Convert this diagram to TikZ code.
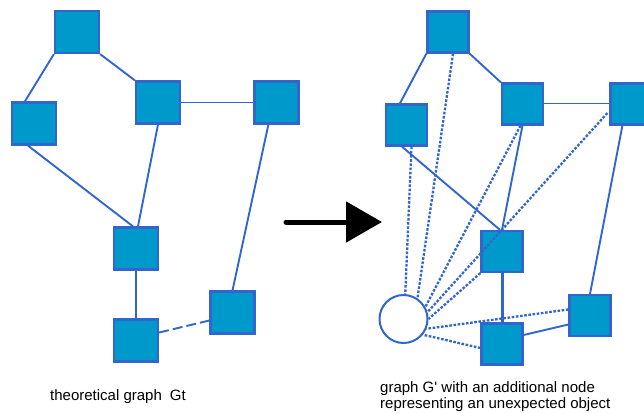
\documentclass[tikz,border=0pt]{standalone}
\usepackage{fontspec}
\setmainfont{Liberation Sans}
\usetikzlibrary{calc,arrows.meta}
\definecolor{boxfill}{RGB}{0,153,204}
\definecolor{edgeblue}{RGB}{51,102,204}
\begin{document}
\begin{tikzpicture}[x=1pt,y=-1pt,
  sqL/.style={draw=edgeblue,fill=boxfill,line width=2.2pt,minimum width=44pt,minimum height=42pt,inner sep=0pt},
  sqR/.style={draw=edgeblue,fill=boxfill,line width=2.2pt,minimum width=41pt,minimum height=41pt,inner sep=0pt},
  obj/.style={circle,draw=edgeblue,fill=white,line width=2pt,minimum size=48pt,inner sep=0pt},
  link/.style={draw=edgeblue,line width=1.9pt},
  thinlink/.style={draw=edgeblue,line width=1pt},
  dashlink/.style={draw=edgeblue,line width=1.9pt,dash pattern=on 10pt off 4pt},
  dotlink/.style={draw=edgeblue,line width=2.3pt,dash pattern=on 2.6pt off 1.6pt},
  caption/.style={font=\fontsize{15}{17}\selectfont,inner sep=0pt}]
\useasboundingbox (0,0) rectangle (644,414);
\clip (0,0) rectangle (644,414);

% ---------- theoretical graph ----------
\node[sqL] (A) at (77,32) {};
\node[sqL] (B) at (34,123.5) {};
\node[sqL] (C) at (158,102.5) {};
\node[sqL] (D) at (276.5,102.5) {};
\node[sqL] (E) at (136,248.5) {};
\node[sqL] (F) at (136,340.5) {};
\node[sqL] (G) at (232.5,312.5) {};

\draw[link] (A.south west) -- ($(B.north west)+(14,0)$);
\draw[link] (A.south east) -- (C.north west);
\draw[thinlink] (C.east) -- (D.west);
\draw[link] ($(B.south west)+(17,0)$) -- ($(E.north)+(-3,0)$);
\draw[link] (C.south) -- ($(E.north)+(2,0)$);
\draw[link] ($(D.south west)+(15,0)$) -- (G.north);
\draw[link] (E.south) -- (F.north);
\draw[dashlink] ($(F.east)+(0,-8)$) -- ($(G.west)+(0,8)$);

% ---------- transformation arrow ----------
\coordinate (t0) at (286,222);
\coordinate (t1) at (382,222);
\draw[line width=5pt,line cap=round,-{Triangle[length=36pt,width=40pt]}] (t0) -- (t1);

% ---------- graph with the extra object ----------
\node[sqR] (A2) at (448,32) {};
\node[sqR] (B2) at (406.5,125) {};
\node[sqR] (C2) at (522.5,104) {};
\node[sqR] (D2) at (631,104) {};
\node[sqR] (E2) at (502,251.5) {};
\node[sqR] (F2) at (502,344) {};
\node[sqR] (G2) at (590,315.5) {};
\node[obj] (O) at (403.5,319) {};

\draw[link] (A2.south west) -- ($(B2.north west)+(15,0)$);
\draw[link] (A2.south east) -- (C2.north west);
\draw[thinlink] (C2.east) -- (D2.west);
\draw[link] ($(B2.south west)+(17,0)$) -- ($(E2.north)+(-2,0)$);
\draw[link] (C2.south) -- (E2.north);
\draw[link] ($(D2.south west)+(13,0)$) -- (G2.north);
\draw[link,line width=3pt] (E2.south) -- (F2.north);
\draw[link] ($(F2.east)+(0,-9)$) -- ($(G2.west)+(0,9)$);

\draw[dotlink] ($(A2.south)+(5,0)$) -- (O.56);
\draw[dotlink] ($(B2.south)+(5,0)$) -- (O.86);
\draw[dotlink] ($(C2.south)+(-2,0)$) -- (O.29);
\draw[dotlink] ($(D2.west)+(-2,9)$) -- (O.16);
\draw[dotlink] (E2.south west) -- (O.0);
\draw[dotlink] ($(G2.west)+(0,-6)$) -- (O.-23);
\draw[dotlink] ($(F2.west)+(0,4)$) -- (O.-39);

% ---------- captions ----------
\node[caption,anchor=base west] (capL) at (50,400) {theoretical graph\hspace{8pt}Gt};
\node[caption,anchor=base west] (capR1) at (380,392) {graph G\textquotesingle{} with an additional node};
\node[caption,anchor=base west] (capR2) at (380,408) {representing an unexpected object};
\end{tikzpicture}
\end{document}
